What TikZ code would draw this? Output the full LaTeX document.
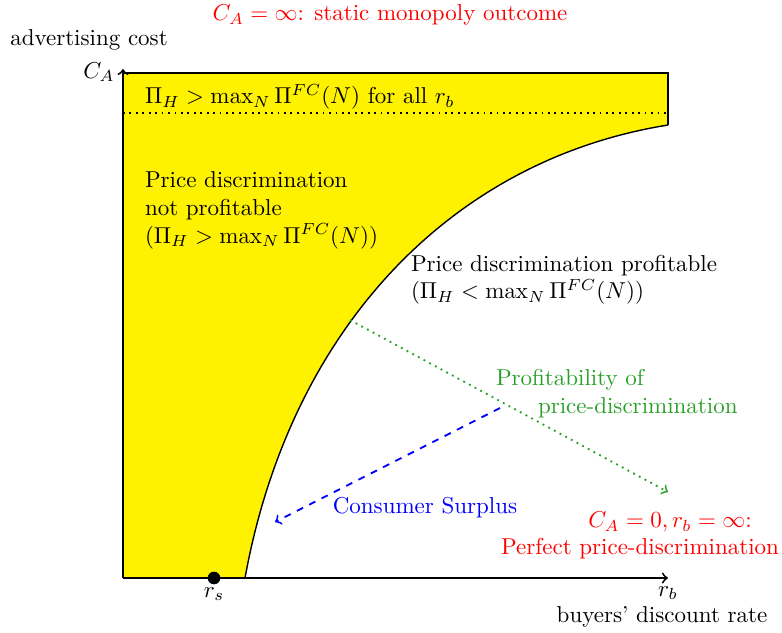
\documentclass[tikz,border=0pt]{standalone}
\usepackage{amsmath}
\definecolor{pgreen}{RGB}{40,160,40}
\begin{document}
\begin{tikzpicture}[x=0.4348pt,y=-0.4348pt,
  lbl/.style={inner sep=0pt,outer sep=0pt},
  axis/.style={thick,->},
  redtxt/.style={lbl,text=red},
  greentxt/.style={lbl,text=pgreen},
  bluetxt/.style={lbl,text=blue}]
\useasboundingbox (0,0) rectangle (782,632);
% coordinates
\coordinate (O) at (123,578);
\coordinate (Ytop) at (123,69);
\coordinate (Xend) at (668,578);
\coordinate (TL) at (123,73);
\coordinate (TR) at (668,73);
\coordinate (CR) at (668,125);
\coordinate (CB) at (245,578);
\coordinate (DL) at (123,113);
\coordinate (DR) at (668,113);
% yellow region
\fill[yellow] (O) -- (TL) -- (TR) -- (CR) .. controls (450,160) and (290,330) .. (CB) -- cycle;
\draw[semithick] (TL) -- (TR) -- (CR);
\draw[semithick] (CR) .. controls (450,160) and (290,330) .. (CB);
\draw[thick, dotted] (DL) -- (DR);
% axes
\draw[axis] (O) -- (Ytop);
\draw[axis] (O) -- (Xend);
% dot
\node[circle,fill=black,inner sep=0pt,minimum size=5.5pt] (rs) at (214,578) {};
% arrows
\coordinate (G1) at (350,320);
\coordinate (G2) at (668,492);
\coordinate (B1) at (500,408);
\coordinate (B2) at (275,522);
\draw[pgreen, thick, dotted, ->] (G1) -- (G2);
\draw[blue, thick, dashed, ->] (B1) -- (B2);
% labels
\node[redtxt] (top) at (390,15) {$C_A=\infty$: static monopoly outcome};
\node[lbl] (adv) at (89,40) {advertising cost};
\node[lbl] (ca) at (99,72) {$C_A$};
\node[lbl,anchor=west] (forall) at (145,97) {$\Pi_H>\max_N\Pi^{FC}(N)$ for all $r_b$};
\node[lbl,anchor=north west,align=left] (np) at (145,172) {Price discrimination\\not profitable\\$(\Pi_H>\max_N\Pi^{FC}(N))$};
\node[lbl,anchor=north west,align=left] (pp) at (411,255) {Price discrimination profitable\\$(\Pi_H<\max_N\Pi^{FC}(N))$};
\node[greentxt,anchor=west] (prof1) at (496,380) {Profitability of};
\node[greentxt,anchor=west] (prof2) at (538,408) {price-discrimination};
\node[bluetxt] (cs) at (425,508) {Consumer Surplus};
\node[redtxt] (pd1) at (670,522) {$C_A=0,r_b=\infty$:};
\node[redtxt] (pd2) at (640,549) {Perfect price-discrimination};
\node[lbl] (rsl) at (214,594) {$r_s$};
\node[lbl] (rbl) at (668,593) {$r_b$};
\node[lbl] (bdr) at (662,617) {buyers' discount rate};
\end{tikzpicture}
\end{document}
